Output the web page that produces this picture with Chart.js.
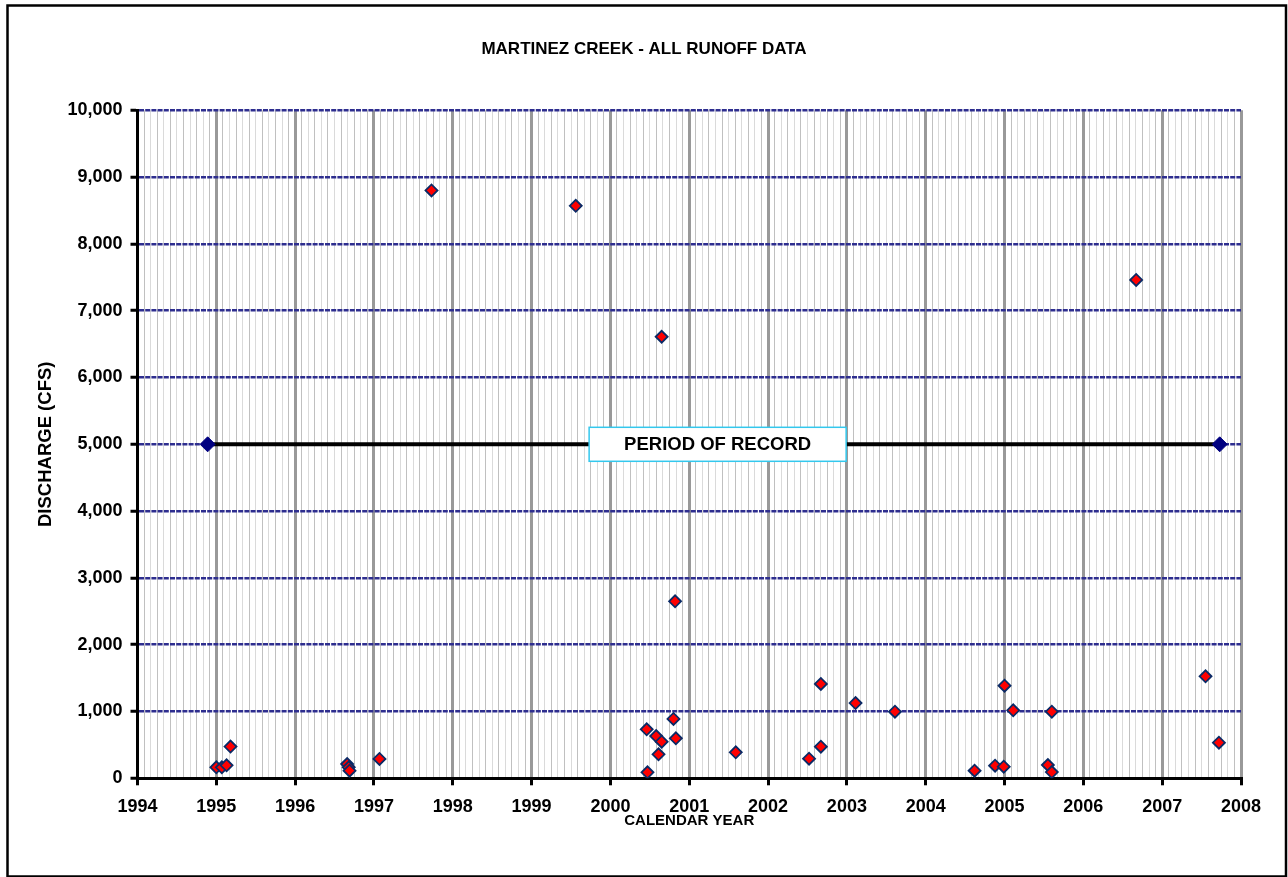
<!DOCTYPE html>
<html>
<head>
<meta charset="utf-8">
<script src="https://cdn.jsdelivr.net/npm/chart.js@4"></script>
<style>
  html, body { margin: 0; padding: 0; background: #fff; }
  #wrap { width: 1288px; height: 877px; }
</style>
</head>
<body>
<div id="wrap"><canvas id="chart" width="1288" height="877"></canvas></div>
<script>
// runoff events: decimal calendar year and discharge (cfs)
const eventYears = [
    1995.00, 1995.07, 1995.13, 1995.18, 1996.66, 1996.68, 1996.69, 1997.07,
    1997.73, 1999.56, 2000.46, 2000.47, 2000.58, 2000.61, 2000.65, 2000.65,
    2000.80, 2000.82, 2000.83, 2001.59, 2002.52, 2002.67, 2002.67, 2003.11,
    2003.61, 2004.62, 2004.88, 2004.99, 2005.00, 2005.11, 2005.55, 2005.60,
    2005.60, 2006.67, 2007.55, 2007.72
];
const discharge = [
    165, 165, 195, 475, 214, 165, 114, 290,
    8800, 8570, 733, 90, 633, 359, 548, 6610,
    888, 2650, 599, 389, 293, 473, 1412, 1127,
    997, 114, 189, 174, 1386, 1018, 199, 94,
    997, 7460, 1527, 533
];

// period of record bar
const periodYears = [1994.89, 2007.73];
const periodLevel = [5000, 5000];
const periodLabel = 'PERIOD OF RECORD';
const periodLabelYear = 2001.36;

const chartTitle = 'MARTINEZ CREEK - ALL RUNOFF DATA';
const firstYear = 1994;
const lastYear = 2008;
const maxDischarge = 10000;

const FONT = 'Arial, "Liberation Sans", sans-serif';

const frameAndLabel = {
    id: 'frameAndLabel',
    beforeDraw(chart) {
        const ctx = chart.ctx;
        ctx.save();
        ctx.fillStyle = '#fff';
        ctx.fillRect(0, 0, chart.width, chart.height);
        // chart title, centred on the whole frame like the original
        ctx.fillStyle = '#000';
        ctx.font = 'bold 17px ' + FONT;
        ctx.textAlign = 'center';
        ctx.textBaseline = 'middle';
        ctx.fillText(chartTitle, chart.width / 2, 49);
        ctx.restore();
    },
    afterDatasetsDraw(chart) {
        const ctx = chart.ctx;
        const x = chart.scales.x.getPixelForValue(periodLabelYear);
        const y = chart.scales.y.getPixelForValue(periodLevel[0]);
        const w = 257, h = 34;
        ctx.save();
        ctx.fillStyle = '#fff';
        ctx.fillRect(x - w / 2, y - h / 2, w, h);
        ctx.strokeStyle = '#33c8ee';
        ctx.lineWidth = 1.5;
        ctx.strokeRect(x - w / 2, y - h / 2, w, h);
        ctx.fillStyle = '#000';
        ctx.font = 'bold 18.5px ' + FONT;
        ctx.textAlign = 'center';
        ctx.textBaseline = 'middle';
        ctx.fillText(periodLabel, x, y + 1);
        ctx.restore();
    },
    afterDraw(chart) {
        const ctx = chart.ctx;
        ctx.save();
        ctx.strokeStyle = '#000';
        ctx.lineWidth = 2.5;
        ctx.strokeRect(7.5, 5.5, 1278.5, 871);
        ctx.restore();
    }
};

const months = [];
for (let i = 0; i <= (lastYear - firstYear) * 12; i++) {
    months.push(firstYear + i / 12);
}

new Chart(document.getElementById('chart').getContext('2d'), {
    type: 'scatter',
    data: {
        datasets: [
            {
                label: 'Period of record',
                data: periodYears.map((x, i) => ({ x: x, y: periodLevel[i] })),
                showLine: true,
                borderColor: '#000',
                borderWidth: 4,
                pointStyle: 'rectRot',
                pointRadius: 7.5,
                backgroundColor: '#000080',
                pointBorderColor: '#000080',
                pointBorderWidth: 1
            },
            {
                label: 'Runoff',
                data: eventYears.map((x, i) => ({ x: x, y: discharge[i] })),
                pointStyle: 'rectRot',
                pointRadius: 6,
                backgroundColor: '#ff0000',
                borderColor: '#0a2a66',
                borderWidth: 1.8
            }
        ]
    },
    options: {
        responsive: false,
        animation: false,
        layout: { padding: { left: 0, right: 47, top: 110.3, bottom: 0 } },
        plugins: {
            legend: { display: false },
            tooltip: { enabled: false },
            title: { display: false }
        },
        scales: {
            x: {
                type: 'linear',
                min: firstYear,
                max: lastYear,
                afterBuildTicks: (scale) => { scale.ticks = months.map(v => ({ value: v })); },
                afterFit: (scale) => { scale.height = 98.7; },
                ticks: {
                    autoSkip: false,
                    maxRotation: 0,
                    padding: 11,
                    color: '#000',
                    font: { family: FONT, size: 18, weight: 'bold' },
                    callback: (value, index) => index % 12 === 0 ? String(firstYear + index / 12) : ''
                },
                grid: {
                    color: (c) => c.index % 12 === 0 ? '#999999' : (c.index % 2 ? '#c0c0c0' : '#dadada'),
                    lineWidth: (c) => c.index % 12 === 0 ? 3 : 1,
                    tickColor: (c) => c.index % 12 === 0 ? '#000' : 'rgba(0,0,0,0)',
                    tickWidth: 3,
                    tickLength: 7
                },
                border: { color: '#000', width: 3 },
                title: {
                    display: true,
                    text: 'CALENDAR YEAR',
                    color: '#000',
                    font: { family: FONT, size: 15, weight: 'bold' },
                    padding: { top: 0, bottom: 47 }
                }
            },
            y: {
                min: 0,
                max: maxDischarge,
                afterFit: (scale) => { scale.width = 137.5; },
                ticks: {
                    stepSize: 1000,
                    padding: 8,
                    color: '#000',
                    font: { family: FONT, size: 18, weight: 'bold' },
                    callback: (value) => value.toLocaleString('en-US')
                },
                grid: {
                    color: '#2e2e8f',
                    lineWidth: 2.5,
                    tickColor: '#000',
                    tickWidth: 3,
                    tickLength: 7
                },
                border: { color: '#000', width: 3, dash: [5, 1.2] },
                title: {
                    display: true,
                    text: 'DISCHARGE (CFS)',
                    color: '#000',
                    font: { family: FONT, size: 18.5, weight: 'bold' },
                    padding: { top: 34.9, bottom: 0 }
                }
            }
        }
    },
    plugins: [frameAndLabel]
});
</script>
</body>
</html>
